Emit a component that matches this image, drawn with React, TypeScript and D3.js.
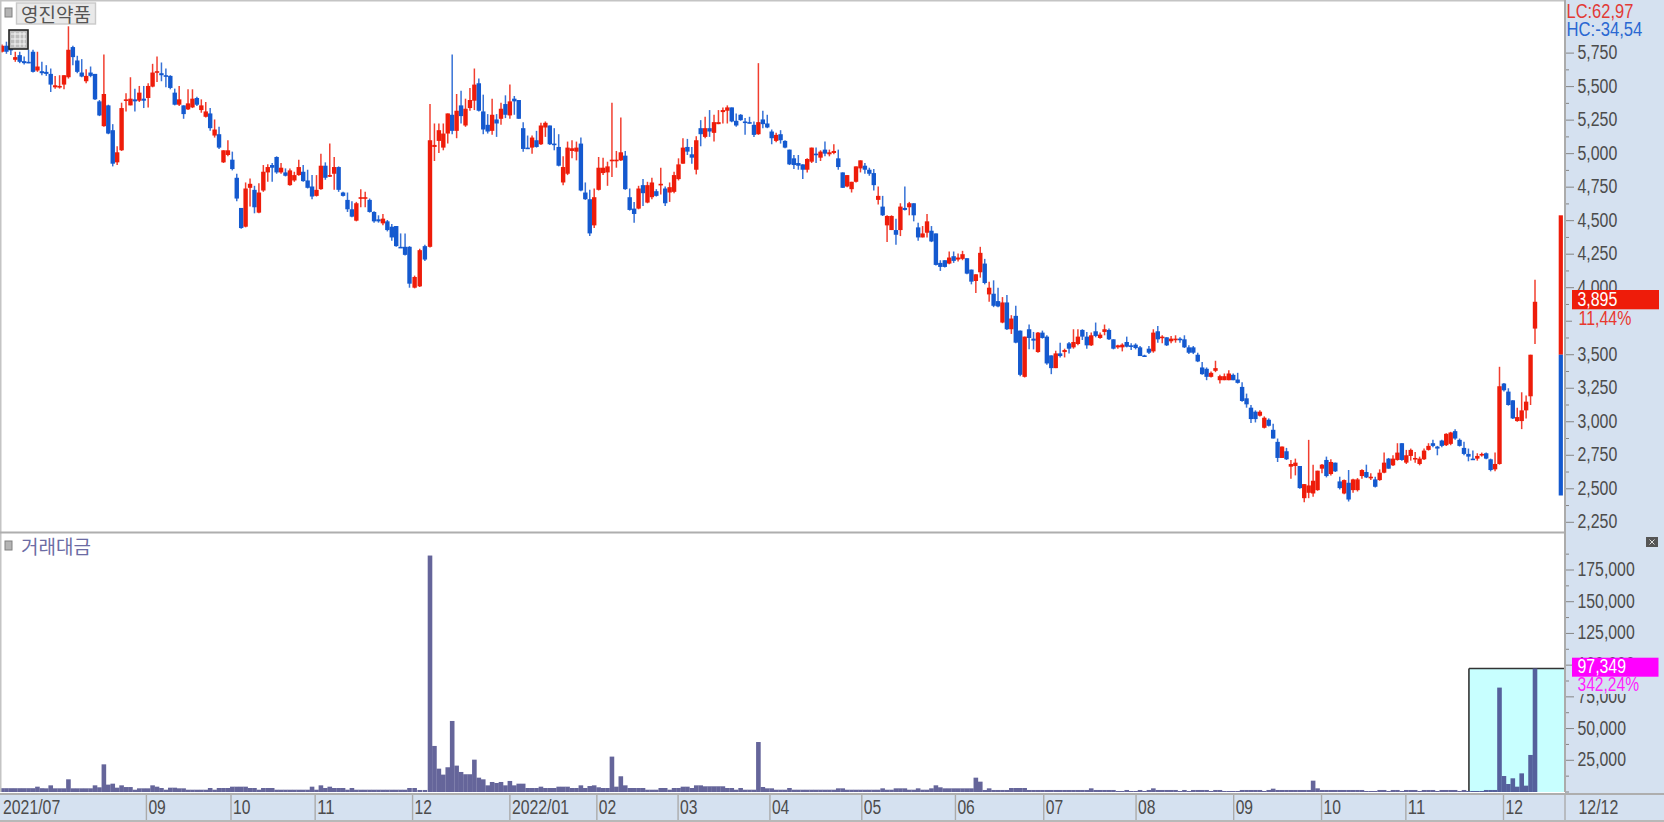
import React from "react";
import * as d3 from "d3";

const stockName = "영진약품";
const volumeName = "거래대금";

const opens = [
5760,5805,5800,5700,5735,5690,5685,5760,5620,5615,
5610,5595,5495,5495,5515,5570,5795,5695,5605,5540,
5605,5595,5390,5205,5360,5175,4935,5025,5395,5360,
5405,5395,5410,5415,5500,5610,5600,5585,5580,5455,
5365,5360,5330,5345,5415,5325,5275,5300,5135,5145,
4935,4990,4955,4820,4595,4455,4745,4730,4560,4725,
4860,4915,4975,4860,4860,4765,4800,4840,4865,4800,
4755,4685,4735,4910,4830,4850,4900,4710,4655,4585,
4500,4670,4670,4655,4565,4510,4480,4495,4455,4460,
4305,4305,4305,4000,4010,4310,4305,5050,5095,5045,
5150,5290,5170,5360,5210,5340,5395,5525,5315,5215,
5170,5255,5260,5370,5285,5410,5400,5190,5045,5045,
5100,5070,5195,5210,5075,5050,4785,4850,5020,5015,
5075,4710,4660,4465,4730,4855,4860,4945,4945,4950,
4985,4675,4590,4590,4765,4635,4675,4720,4770,4740,
4710,4715,4810,4925,5050,4995,4880,5190,5125,5190,
5155,5220,5310,5320,5345,5245,5290,5240,5235,5215,
5145,5255,5225,5165,5095,5145,5095,5030,4965,4930,
4920,4880,4940,5000,4970,5030,4995,5005,4965,4860,
4755,4735,4790,4890,4910,4880,4855,4655,4605,4465,
4430,4430,4430,4595,4600,4630,4450,4375,4410,4425,
4405,4185,4205,4180,4235,4210,4215,4220,4135,4050,
4115,4180,3950,3955,3900,3740,3890,3690,3790,3680,
3335,3690,3620,3520,3665,3635,3495,3400,3510,3520,
3585,3555,3580,3685,3635,3570,3675,3625,3670,3685,
3615,3555,3555,3595,3570,3575,3555,3495,3545,3525,
3675,3630,3630,3600,3615,3620,3615,3555,3555,3500,
3405,3395,3335,3380,3310,3310,3310,3350,3315,3260,
3175,3105,3075,3045,2955,3015,2940,2850,2730,2780,
2665,2670,2670,2430,2470,2465,2490,2650,2715,2610,
2695,2555,2465,2545,2490,2490,2595,2625,2585,2570,
2565,2620,2725,2675,2715,2840,2695,2745,2720,2685,
2720,2790,2840,2815,2860,2825,2835,2930,2865,2805,
2760,2725,2725,2750,2765,2720,2645,2685,3285,3225,
3160,3005,3005,3085,3190,3695];

const closes = [
5805,5760,5770,5720,5685,5675,5675,5610,5650,5600,
5595,5515,5510,5505,5585,5775,5720,5610,5575,5580,
5580,5405,5285,5445,5150,4925,5010,5340,5405,5410,
5390,5455,5395,5505,5605,5615,5585,5580,5490,5365,
5405,5295,5375,5410,5365,5360,5315,5190,5180,5045,
5025,5025,4885,4665,4445,4740,4775,4600,4710,4865,
4900,4895,4860,4895,4835,4875,4840,4900,4795,4745,
4680,4730,4910,4820,4840,4900,4730,4685,4585,4530,
4630,4675,4675,4565,4495,4495,4515,4430,4375,4310,
4300,4245,4030,4080,4280,4210,5100,5065,5175,5150,
5300,5170,5320,5280,5335,5400,5515,5320,5180,5165,
5290,5225,5335,5290,5390,5390,5260,5035,5035,5120,
5050,5210,5230,5070,5065,4910,4900,5045,5040,5045,
4725,4660,4405,4675,4895,4895,4905,4955,4955,5010,
4735,4580,4550,4740,4705,4765,4785,4685,4775,4630,
4750,4840,4920,5045,5015,4970,5100,5145,5190,5165,
5235,5235,5325,5345,5240,5210,5250,5230,5230,5140,
5235,5220,5195,5115,5140,5100,5045,4920,4915,4910,
4880,4960,5045,4995,5015,5000,5010,5020,4900,4745,
4840,4790,4905,4950,4880,4850,4765,4685,4540,4535,
4535,4395,4605,4580,4630,4540,4375,4405,4495,4345,
4170,4155,4155,4225,4200,4225,4250,4105,4045,4100,
4260,4035,4000,3865,3860,3890,3690,3770,3590,3350,
3635,3625,3605,3665,3625,3435,3400,3510,3490,3535,
3545,3595,3635,3635,3570,3645,3640,3650,3690,3615,
3545,3570,3575,3560,3560,3550,3490,3490,3515,3665,
3615,3635,3570,3620,3620,3610,3555,3515,3515,3450,
3355,3335,3365,3400,3340,3340,3360,3310,3290,3155,
3130,3020,3020,3075,3030,2970,2875,2730,2815,2720,
2685,2695,2505,2535,2525,2560,2635,2680,2595,2700,
2630,2505,2565,2420,2570,2570,2640,2585,2590,2515,
2620,2695,2650,2725,2770,2715,2750,2790,2730,2725,
2785,2820,2820,2800,2820,2910,2920,2875,2820,2760,
2740,2720,2745,2760,2725,2640,2685,3265,3235,3125,
3025,3035,3085,3150,3500,3895];

const highs = [
5815,5835,5810,5760,5760,5725,5775,5775,5760,5685,
5660,5635,5580,5585,5585,5950,5805,5730,5705,5630,
5650,5595,5400,5740,5365,5220,5055,5380,5450,5570,
5485,5505,5505,5525,5670,5725,5680,5635,5585,5485,
5505,5360,5480,5480,5425,5405,5385,5340,5255,5200,
5025,5100,5015,4850,4595,4785,4815,4760,4780,4915,
4920,4930,4980,4930,4890,4890,4865,4955,4915,4880,
4840,4840,5000,4935,5075,4975,4905,4715,4710,4645,
4640,4735,4715,4665,4570,4540,4550,4505,4475,4460,
4405,4405,4310,4090,4290,4320,5370,5225,5225,5225,
5300,5740,5445,5470,5410,5490,5635,5560,5440,5295,
5410,5295,5380,5435,5515,5430,5400,5235,5135,5135,
5170,5230,5240,5210,5190,5145,4980,5090,5100,5090,
5120,4785,4730,4740,4975,4970,4940,5380,5020,5270,
5020,4740,4640,4760,4810,4790,4820,4735,4895,4755,
4785,4865,4965,5115,5110,5050,5130,5250,5275,5325,
5290,5325,5345,5360,5345,5300,5295,5265,5275,5240,
5675,5320,5290,5180,5155,5175,5100,5030,4990,4990,
4920,4965,5045,5045,5025,5090,5030,5070,5030,4860,
4840,4790,4905,4950,4930,4895,4885,4755,4685,4540,
4540,4515,4630,4755,4640,4630,4485,4460,4550,4460,
4405,4205,4205,4270,4270,4255,4275,4220,4135,4100,
4305,4215,4045,4055,4000,3930,3945,3795,3865,3680,
3635,3725,3670,3670,3680,3645,3495,3530,3590,3545,
3595,3690,3690,3690,3670,3665,3740,3665,3725,3695,
3615,3575,3585,3635,3585,3585,3565,3500,3565,3690,
3715,3645,3630,3640,3645,3630,3645,3570,3565,3515,
3445,3405,3375,3455,3350,3360,3385,3360,3365,3295,
3210,3125,3085,3085,3040,3025,2985,2875,2815,2805,
2715,2725,2670,2535,2865,2680,2635,2685,2740,2720,
2695,2590,2570,2640,2575,2580,2645,2680,2615,2590,
2645,2770,2730,2750,2840,2840,2790,2800,2775,2740,
2800,2840,2865,2820,2865,2915,2925,2945,2875,2850,
2800,2785,2765,2770,2770,2725,2770,3410,3290,3250,
3160,3105,3220,3195,3500,4060];

const lows = [
5755,5745,5735,5685,5675,5665,5675,5605,5610,5585,
5580,5460,5485,5485,5480,5560,5660,5600,5570,5525,
5570,5400,5280,5200,5145,4905,4915,5020,5315,5360,
5315,5385,5340,5345,5495,5535,5540,5495,5480,5360,
5355,5260,5325,5340,5355,5305,5270,5170,5120,5035,
4930,4980,4875,4645,4440,4450,4605,4555,4555,4715,
4790,4790,4850,4850,4830,4760,4790,4835,4790,4740,
4660,4680,4730,4805,4825,4730,4715,4680,4565,4525,
4495,4600,4600,4560,4485,4485,4465,4420,4350,4305,
4300,4240,4000,3995,4005,4200,4300,4945,5005,5025,
5075,5145,5115,5225,5200,5320,5325,5315,5145,5150,
5140,5125,5215,5265,5260,5290,5260,5015,5035,5000,
5045,5065,5125,5065,5025,4905,4765,4840,4965,4950,
4720,4655,4385,4445,4725,4840,4760,4825,4895,4945,
4730,4575,4485,4585,4610,4630,4660,4680,4695,4610,
4640,4705,4800,4925,4990,4925,4845,5055,5115,5125,
5090,5220,5225,5225,5235,5200,5245,5140,5225,5125,
5140,5190,5190,5070,5085,5075,5040,4915,4885,4880,
4810,4860,4930,4930,4945,4980,4980,4995,4880,4745,
4750,4710,4785,4860,4850,4835,4725,4620,4535,4340,
4430,4320,4385,4575,4540,4495,4350,4375,4375,4340,
4165,4125,4150,4175,4185,4195,4205,4100,4025,3960,
4075,4025,3895,3855,3855,3735,3685,3655,3585,3340,
3330,3540,3540,3515,3620,3425,3355,3400,3480,3480,
3510,3545,3570,3610,3545,3565,3630,3620,3645,3610,
3540,3545,3525,3555,3535,3540,3490,3490,3505,3515,
3590,3585,3565,3585,3590,3590,3550,3505,3505,3445,
3350,3310,3330,3370,3285,3310,3310,3310,3285,3150,
3105,2990,2995,3040,2950,2965,2875,2700,2730,2715,
2575,2600,2500,2400,2430,2440,2485,2615,2585,2600,
2625,2495,2460,2405,2470,2480,2575,2580,2565,2510,
2560,2615,2650,2670,2710,2710,2685,2710,2695,2675,
2715,2785,2810,2750,2810,2820,2825,2865,2815,2750,
2705,2720,2710,2740,2720,2630,2630,2680,3225,3120,
3020,3000,2945,3025,3125,3580];

const volumes = [
3000,3000,3000,3000,3000,3000,3000,3000,4200,3000,
2900,5250,2900,2900,2900,10000,2900,2900,2900,2900,
2900,5250,3700,21800,5800,6570,3400,5250,3900,3900,
1800,2900,2900,2900,5250,4200,3150,1800,3400,3400,
2900,2900,1800,1800,1800,1800,1800,3150,1800,3150,
3150,3150,4200,4200,4200,4200,3150,3150,1800,3150,
3150,3150,1800,1800,1800,1800,1800,1800,1800,1800,
4200,1800,5250,3150,4200,3150,3150,3150,1800,3150,
1800,1800,1800,1800,1800,1800,1800,1800,1800,1800,
1800,1800,3150,3150,1600,1600,186400,36300,18400,13700,
19500,56000,20800,15800,14000,14000,25500,11300,10000,5250,
7900,7100,7900,5250,8700,5250,6570,6570,3150,3150,
3150,4200,3150,3150,3150,4200,4200,4200,3150,3150,
5250,3150,4700,5250,3700,3150,3150,27900,4200,12400,
5250,3150,3150,3150,3150,1800,1800,1800,3150,3150,
1800,3150,3150,4200,4200,3150,5250,5250,4500,4500,
4500,4500,4500,3150,3150,1800,3150,1800,1800,1800,
39400,3950,2900,2900,1800,1800,1800,3150,1800,1800,
1800,1800,1800,1800,1800,1800,1800,1800,2890,2890,
1800,1800,1800,1800,1800,1800,1800,1800,2890,1800,
1800,2890,2890,2890,1800,1800,2890,1800,1800,2890,
5260,3700,2890,2890,2890,2890,2890,2890,2890,11300,
8150,1600,2890,1600,1600,1600,1600,3150,3150,3150,
3150,1600,1600,1600,1600,1600,1600,1600,1600,1600,
1600,1600,1600,1600,1600,2890,1600,1600,1600,1600,
1600,800,800,1600,800,800,1600,800,1600,2890,
1600,1600,1600,1600,1600,800,1600,800,1600,1600,
1600,1600,800,1600,1600,800,800,800,800,1600,
1600,1600,1600,1600,800,1600,2630,1600,1600,1600,
1600,1600,1600,1600,1600,8940,2890,1600,1600,1600,
1600,1600,1600,1600,1600,1600,1600,800,800,800,
1600,1600,800,1600,1600,800,1600,1600,1600,800,
1600,1600,1600,800,1600,1600,1600,1600,800,1600,
800,800,800,800,1600,1600,1600,82300,12600,6300,
10800,4200,14700,5000,29200,97349];

const priceTicks = [5750,5500,5250,5000,4750,4500,4250,4000,3750,3500,3250,3000,2750,2500,2250];
const priceLabels = [5750,5500,5250,5000,4750,4500,4250,4000,3500,3250,3000,2750,2500,2250];
const priceMinor = [5625,5375,5125,4875,4625,4375,4125,3875,3625,3375,3125,2875,2625,2375];
const volumeTicks = [175000,150000,125000,100000,75000,50000,25000];
const volumeMinor = [187500,162500,137500,112500,87500,62500,37500,12500,0];
const monthLabels = ["2021/07","09","10","11","12","2022/01","02","03","04","05","06","07","08","09","10","11","12"];
const monthStarts = [0,32.6,51.7,70.7,92.6,114,133.6,151.9,172.6,193.3,214.4,234.3,255.1,277.1,296.9,315.9,337.9];
const lastDateLabel = "12/12";
const lastPrice = "3,895";
const lastPriceChange = "11,44%";
const lastVolume = "97,349";
const lastVolumeChange = "342,24%";
const highCutLabel = "LC:62,97";
const lowCutLabel = "HC:-34,54";
const rangeLimits = [4540, 3500, 2450];
const highlightStart = 330;

const W = 1664;
const H = 822;
const axisX = 1565;
const RED = "#ee1c0a";
const BLUE = "#1459cf";
const BAND = "#d5e1f0";
const LINE = "#ababab";
const TICK = "#858585";
const INK = "#4c4c4c";
const PURPLE = "#65659a";

const xScale = d3.scaleLinear().domain([0, 92, 96, opens.length - 1]).range([2, 409.5, 430, 1535]);
const yPrice = d3.scaleLinear().domain([5750, 2250]).range([53.1, 522.3]);
const yVolume = d3.scaleLinear().domain([0, 175000]).range([792, 570]);
const fmt = d3.format(",");

const glyphWidth = (s: string) =>
  Array.from(s).reduce((sum, c) => {
    if (/[0-9]/.test(c)) return sum + 8.7;
    if (c === "%") return sum + 13;
    if (c === "L") return sum + 10;
    if (c === "C" || c === "H") return sum + 12;
    if (c === "-") return sum + 7;
    return sum + 5;
  }, 0);

function Narrow(props: { x: number; y: number; text: string; fill: string }) {
  return (
    <text
      x={props.x}
      y={props.y - 1}
      fill={props.fill}
      fontFamily='"Liberation Sans", sans-serif'
      fontSize={19.5}
      textLength={glyphWidth(props.text)}
      lengthAdjust="spacingAndGlyphs"
      dominantBaseline="central"
    >
      {props.text}
    </text>
  );
}

function Square(props: { x: number; y: number }) {
  return <rect x={props.x} y={props.y} width={7} height={9} fill="#b4b4b4" stroke="#808080" strokeWidth={1} />;
}

export default function App() {
  const idx = d3.range(opens.length);
  const rangeX = 1558.7;
  const boxX = xScale(highlightStart) + 0.5;
  return (
    <svg
      width={W}
      height={H}
      viewBox={`0 0 ${W} ${H}`}
      style={{ position: "absolute", left: 0, top: 0, background: "#fff", display: "block" }}
    >
      <rect x={0} y={0} width={W} height={H} fill="#ffffff" />

      {/* highlighted last-days box in the volume pane */}
      <rect x={boxX} y={yVolume(97349)} width={axisX - boxX} height={792 - yVolume(97349)} fill="#c8ffff" />
      <line x1={boxX} x2={boxX} y1={yVolume(97349)} y2={792} stroke="#333" strokeWidth={1.6} />
      <line x1={boxX} x2={axisX - 1} y1={yVolume(97349)} y2={yVolume(97349)} stroke="#333" strokeWidth={1.6} />

      {/* volume bars */}
      {idx.map((i) => (
        <rect
          key={"v" + i}
          x={xScale(i) - 2.3}
          y={yVolume(volumes[i])}
          width={4.6}
          height={792 - yVolume(volumes[i])}
          fill={i >= highlightStart ? "#55609c" : PURPLE}
        />
      ))}

      {/* candles */}
      {idx.map((i) => {
        const up = closes[i] >= opens[i];
        const c = up ? RED : BLUE;
        const top = yPrice(Math.max(opens[i], closes[i]));
        const bot = yPrice(Math.min(opens[i], closes[i]));
        return (
          <g key={"c" + i}>
            <line x1={xScale(i)} x2={xScale(i)} y1={yPrice(highs[i])} y2={yPrice(lows[i])} stroke={c} strokeWidth={1.5} strokeOpacity={0.85} />
            <rect x={xScale(i) - 2.2} y={top} width={4.4} height={Math.max(bot - top, 1.6)} fill={c} />
          </g>
        );
      })}

      {/* frame */}
      <rect x={0} y={0} width={axisX} height={1.5} fill="#c4c4c4" />
      <rect x={0} y={0} width={1.5} height={794} fill="#c4c4c4" />
      <rect x={0} y={531.5} width={axisX} height={2} fill="#aeaeae" />

      {/* right axis band */}
      <rect x={axisX} y={0} width={W - axisX} height={H} fill={BAND} />
      <rect x={axisX - 1} y={0} width={2} height={H} fill={LINE} />
      {priceTicks.map((t) => (
        <line key={"pt" + t} x1={axisX + 1} x2={axisX + 9} y1={yPrice(t)} y2={yPrice(t)} stroke={TICK} strokeWidth={1} />
      ))}
      {priceMinor.map((t) => (
        <line key={"pm" + t} x1={axisX + 1} x2={axisX + 4} y1={yPrice(t)} y2={yPrice(t)} stroke={TICK} strokeWidth={1} />
      ))}
      {priceLabels.map((t) => (
        <Narrow key={"pl" + t} x={1577.5} y={yPrice(t)} text={fmt(t)} fill={INK} />
      ))}
      {volumeTicks.map((t) => (
        <line key={"vt" + t} x1={axisX + 1} x2={axisX + 9} y1={yVolume(t)} y2={yVolume(t)} stroke={TICK} strokeWidth={1} />
      ))}
      {volumeMinor.map((t) => (
        <line key={"vm" + t} x1={axisX + 1} x2={axisX + 4} y1={yVolume(t)} y2={yVolume(t)} stroke={TICK} strokeWidth={1} />
      ))}
      {volumeTicks.map((t) => (
        <Narrow key={"vl" + t} x={1577.5} y={yVolume(t)} text={fmt(t)} fill={INK} />
      ))}

      {/* price range bar */}
      <rect x={rangeX} y={yPrice(rangeLimits[0])} width={4.2} height={yPrice(rangeLimits[1]) - yPrice(rangeLimits[0])} fill={RED} />
      <rect x={rangeX} y={yPrice(rangeLimits[1])} width={4.2} height={yPrice(rangeLimits[2]) - yPrice(rangeLimits[1])} fill={BLUE} />

      {/* top-right cut labels */}
      <Narrow x={1566.5} y={11.5} text={highCutLabel} fill="#e23a36" />
      <Narrow x={1566.5} y={30} text={lowCutLabel} fill="#2a68d2" />

      {/* last price badge */}
      <rect x={1572} y={309} width={87} height={19} fill={BAND} />
      <rect x={1572} y={290} width={87} height={19.3} fill={RED} />
      <Narrow x={1577.5} y={300} text={lastPrice} fill="#ffffff" />
      <Narrow x={1578.5} y={318.5} text={lastPriceChange} fill="#e8382e" />

      {/* last volume badge */}
      <rect x={1572} y={676} width={87} height={18} fill={BAND} />
      <rect x={1572} y={657.7} width={86.5} height={19} fill="#ff00ff" />
      <Narrow x={1577.5} y={667} text={lastVolume} fill="#ffffff" />
      <Narrow x={1577.5} y={685} text={lastVolumeChange} fill="#ff22ff" />

      {/* small close button */}
      <rect x={1646} y={537} width={12} height={10} fill="#555" />
      <path d="M1649.5 539.5 l5 5 M1654.5 539.5 l-5 5" stroke="#ddd" strokeWidth={1} />

      {/* bottom axis band */}
      <rect x={0} y={792} width={axisX} height={1.5} fill="#ffffff" />
      <rect x={0} y={795} width={W} height={25} fill={BAND} />
      <rect x={0} y={820} width={W} height={2} fill="#b8b8b8" />
      <rect x={0} y={793} width={W} height={2} fill="#aeaeae" />
      {monthStarts.slice(1).map((m, k) => (
        <line key={"mt" + k} x1={xScale(m)} x2={xScale(m)} y1={795} y2={820} stroke={LINE} strokeWidth={1.4} />
      ))}
      <line x1={axisX} x2={axisX} y1={795} y2={820} stroke={LINE} strokeWidth={1.4} />
      {monthLabels.map((l, k) => (
        <Narrow key={"ml" + k} x={k === 0 ? 3 : xScale(monthStarts[k]) + 2} y={808} text={l} fill={INK} />
      ))}
      <Narrow x={1578.5} y={808} text={lastDateLabel} fill={INK} />

      {/* title widgets */}
      <Square x={5} y={8} />
      <rect x={16.5} y={3} width={79} height={21} fill="#e9e9e9" stroke="#c9c9c9" strokeWidth={1.4} />
      <text x={56} y={13.5} textAnchor="middle" dominantBaseline="central" fontFamily='"Noto Sans CJK KR"' fontSize={19} fill="#555">
        {stockName}
      </text>
      <rect x={9} y={30} width={19} height={19} fill="#bdbdbd" stroke="#222" strokeWidth={1.6} />
      <path d="M11 34 H26 M11 39 H26 M11 44 H26 M15 32 V47 M20 32 V47 M24 32 V47" stroke="#f4f4f4" strokeWidth={1} fill="none" />
      <Square x={5} y={541} />
      <text x={21} y={545} dominantBaseline="central" fontFamily='"Noto Sans CJK KR"' fontSize={19} fill="#6c6ca4">
        {volumeName}
      </text>
    </svg>
  );
}
